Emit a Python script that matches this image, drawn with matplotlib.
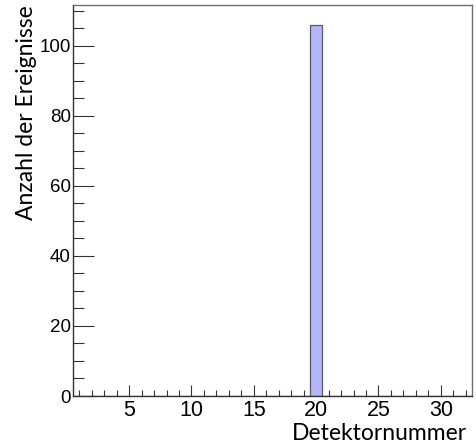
import matplotlib
matplotlib.use("Agg")
import matplotlib.pyplot as plt
from matplotlib.ticker import MultipleLocator

plt.rcParams["font.family"] = ["Liberation Sans", "DejaVu Sans"]

detectors = [1, 2, 3, 4, 5, 6, 7, 8, 9, 10, 11, 12, 13, 14, 15, 16,
             17, 18, 19, 20, 21, 22, 23, 24, 25, 26, 27, 28, 29, 30, 31, 32]
counts = [0, 0, 0, 0, 0, 0, 0, 0, 0, 0, 0, 0, 0, 0, 0, 0,
          0, 0, 0, 106, 0, 0, 0, 0, 0, 0, 0, 0, 0, 0, 0, 0]
xticks = [5, 10, 15, 20, 25, 30]
yticks = [0, 20, 40, 60, 80, 100]

fig = plt.figure(figsize=(4.77, 4.48), dpi=100)
ax = fig.add_axes([73/477, 52/448, 399/477, 391/448])

ax.bar(detectors, counts, width=1.0, color="#b6b6fc", edgecolor="#5a5a5a",
       linewidth=0.9, align="center", zorder=2)

ax.set_xlim(0.5, 32.5)
ax.set_ylim(0, 111.7)
ax.set_xticks(xticks)
ax.set_yticks(yticks)
ax.xaxis.set_minor_locator(MultipleLocator(1))
ax.yaxis.set_minor_locator(MultipleLocator(5))

frame_col = "#6e6e6e"
for s in ax.spines.values():
    s.set_color(frame_col)
    s.set_linewidth(1.0)
ax.spines["left"].set_color("#333333")
ax.spines["bottom"].set_color("#333333")

ax.tick_params(axis="x", which="major", direction="in", length=8, width=0.8,
               color="#333333", labelsize=15.5, pad=3)
ax.tick_params(axis="x", which="minor", direction="in", length=4, width=0.8,
               color="#333333")
ax.tick_params(axis="y", which="major", direction="in", length=15, width=0.8,
               color="#333333", labelsize=13.5, pad=1.5)
ax.tick_params(axis="y", which="minor", direction="in", length=8, width=0.8,
               color="#333333")

fig.text(467/477, 1 - 440/448, "Detektornummer", ha="right", va="baseline",
         fontsize=16.5, family="Lato")
fig.text(27/477, 1 - 5/448, "Anzahl der Ereignisse", ha="center", va="top",
         rotation=90, fontsize=16.5, family="Lato")

fig.savefig("out.png", dpi=100)
